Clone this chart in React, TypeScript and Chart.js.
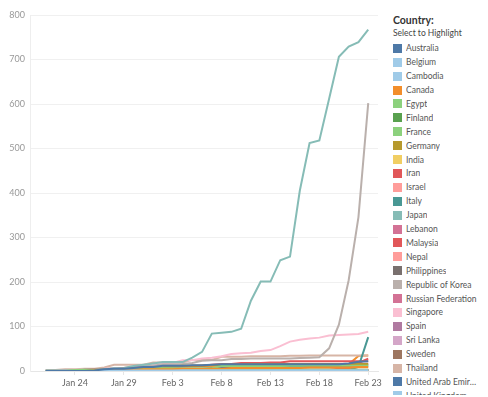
import React, { useEffect, useRef } from "react";
import { Chart, registerables } from "chart.js";

Chart.register(...registerables);

const dates = [
  "Jan 21", "Jan 22", "Jan 23", "Jan 24", "Jan 25", "Jan 26", "Jan 27", "Jan 28", "Jan 29", "Jan 30",
  "Jan 31", "Feb 1", "Feb 2", "Feb 3", "Feb 4", "Feb 5", "Feb 6", "Feb 7", "Feb 8", "Feb 9",
  "Feb 10", "Feb 11", "Feb 12", "Feb 13", "Feb 14", "Feb 15", "Feb 16", "Feb 17", "Feb 18", "Feb 19",
  "Feb 20", "Feb 21", "Feb 22", "Feb 23",
];
const xTickIndex = [3, 8, 13, 18, 23, 28, 33];
const yTickValues = [0, 100, 200, 300, 400, 500, 600, 700, 800];

const countries = [
  "Australia", "Belgium", "Cambodia", "Canada", "Egypt", "Finland", "France", "Germany", "India",
  "Iran", "Israel", "Italy", "Japan", "Lebanon", "Malaysia", "Nepal", "Philippines",
  "Republic of Korea", "Russian Federation", "Singapore", "Spain", "Sri Lanka", "Sweden",
  "Thailand", "United Arab Emirates", "United Kingdom", "United States of America", "Viet Nam",
];
const colors = [
  "#4E79A7", "#A0CBE8", "#A0CBE8", "#F28E2B", "#8CD17D", "#59A14F", "#8CD17D", "#B6992D", "#F1CE63",
  "#E15759", "#FF9D9A", "#499894", "#86BCB6", "#D37295", "#E15759", "#FF9D9A", "#79706E",
  "#BAB0AC", "#D37295", "#FABFD2", "#B07AA1", "#D4A6C8", "#9D7660",
  "#D7B5A6", "#4E79A7", "#A0CBE8", "#F28E2B", "#FFBE7D",
];

const australia = [0,0,0,0,0,1,4,5,5,7, 9,9,12,12,12,13,13,14,15,15, 15,15,15,15,15,15,15,15,15,15, 15,17,21,22];
const belgium = [0,0,0,0,0,0,0,0,0,0, 0,0,0,0,1,1,1,1,1,1, 1,1,1,1,1,1,1,1,1,1, 1,1,1,1];
const cambodia = [0,0,0,0,0,0,1,1,1,1, 1,1,1,1,1,1,1,1,1,1, 1,1,1,1,1,1,1,1,1,1, 1,1,1,1];
const canada = [0,0,0,0,0,1,1,2,3,3, 4,4,4,4,5,5,5,5,5,7, 7,7,7,7,7,7,7,8,8,8, 8,8,9,9];
const egypt = [0,0,0,0,0,0,0,0,0,0, 0,0,0,0,0,0,0,0,0,0, 0,0,0,0,1,1,1,1,1,1, 1,1,1,1];
const finland = [0,0,0,0,0,0,0,0,1,1, 1,1,1,1,1,1,1,1,1,1, 1,1,1,1,1,1,1,1,1,1, 1,1,1,1];
const france = [0,0,0,2,3,3,3,3,4,5, 6,6,6,6,6,6,6,6,11,11, 11,11,11,11,11,12,12,12,12,12, 12,12,12,12];
const germany = [0,0,0,0,0,0,0,1,4,4, 5,7,8,10,12,12,12,13,14,14, 14,16,16,16,16,16,16,16,16,16, 16,16,16,16];
const india = [0,0,0,0,0,0,0,0,0,1, 1,1,2,3,3,3,3,3,3,3, 3,3,3,3,3,3,3,3,3,3, 3,3,3,3];
const iran = [0,0,0,0,0,0,0,0,0,0, 0,0,0,0,0,0,0,0,0,0, 0,0,0,0,0,0,0,0,0,2, 5,5,18,28];
const israel = [0,0,0,0,0,0,0,0,0,0, 0,0,0,0,0,0,0,0,0,0, 0,0,0,0,0,0,0,0,0,0, 0,1,1,1];
const italy = [0,0,0,0,0,0,0,0,0,2, 2,2,2,2,2,2,3,3,3,3, 3,3,3,3,3,3,3,3,3,3, 3,3,9,76];
const japan = [1,1,1,1,3,3,4,6,7,11, 14,17,20,20,20,30,43,84,86,88, 95,158,201,201,249,257,405,512,518,612, 706,729,739,767];
const lebanon = [0,0,0,0,0,0,0,0,0,0, 0,0,0,0,0,0,0,0,0,0, 0,0,0,0,0,0,0,0,0,0, 0,1,1,1];
const malaysia = [0,0,0,0,3,4,4,4,7,8, 8,8,8,8,10,12,12,14,16,16, 18,18,18,19,19,22,22,22,22,22, 22,22,22,22];
const nepal = [0,0,0,1,1,1,1,1,1,1, 1,1,1,1,1,1,1,1,1,1, 1,1,1,1,1,1,1,1,1,1, 1,1,1,1];
const philippines = [0,0,0,0,0,0,0,0,0,1, 1,1,2,2,2,3,3,3,3,3, 3,3,3,3,3,3,3,3,3,3, 3,3,3,3];
const korea = [1,1,1,2,2,2,3,4,4,4, 11,12,15,15,16,18,23,24,24,27, 27,28,28,28,28,28,29,30,31,51, 104,204,346,602];
const russia = [0,0,0,0,0,0,0,0,0,0, 2,2,2,2,2,2,2,2,2,2, 2,2,2,2,2,2,2,2,2,2, 2,2,2,2];
const singapore = [0,0,1,3,3,4,5,7,7,10, 13,16,18,18,24,24,28,30,33,38, 40,41,45,47,56,66,70,73,75,80, 81,82,83,88];
const spain = [0,0,0,0,0,0,0,0,0,0, 0,1,1,1,1,1,1,1,1,2, 2,2,2,2,2,2,2,2,2,2, 2,2,2,2];
const sriLanka = [0,0,0,0,0,0,1,1,1,1, 1,1,1,1,1,1,1,1,1,1, 1,1,1,1,1,1,1,1,1,1, 1,1,1,1];
const sweden = [0,0,0,0,0,0,0,0,0,0, 1,1,1,1,1,1,1,1,1,1, 1,1,1,1,1,1,1,1,1,1, 1,1,1,1];
const thailand = [2,2,4,4,5,5,8,14,14,14, 14,19,19,19,19,25,25,25,32,32, 32,33,33,33,33,34,34,35,35,35, 35,35,35,35];
const uae = [0,0,0,0,0,0,0,0,4,4, 4,4,5,5,5,5,5,7,7,7, 8,8,8,8,8,9,9,9,9,9, 9,11,13,13];
const uk = [0,0,0,0,0,0,0,0,0,0, 2,2,2,2,2,2,3,3,3,4, 8,8,9,9,9,9,9,9,9,9, 9,9,9,9];
const usa = [0,1,1,1,2,2,5,5,5,5, 6,7,8,11,11,11,12,12,12,12, 12,13,13,14,15,15,15,15,15,15, 15,15,34,35];
const vietNam = [0,0,2,2,2,2,2,2,2,2, 5,6,8,8,10,10,12,12,13,14, 14,15,15,16,16,16,16,16,16,16, 16,16,16,16];

const seriesValues = [
  australia, belgium, cambodia, canada, egypt, finland, france, germany, india,
  iran, israel, italy, japan, lebanon, malaysia, nepal, philippines,
  korea, russia, singapore, spain, sriLanka, sweden,
  thailand, uae, uk, usa, vietNam,
];

const FONT = "Lato, 'Open Sans', sans-serif";

export default function App() {
  const ref = useRef<HTMLCanvasElement>(null);

  useEffect(() => {
    document.body.style.margin = "0";
    const chart = new Chart(ref.current as HTMLCanvasElement, {
      type: "line",
      data: {
        datasets: countries.map((c, i) => ({
          label: c,
          data: seriesValues[i].map((v, j) => ({ x: j, y: v })),
          borderColor: colors[i],
          backgroundColor: colors[i],
          borderWidth: 2,
          pointRadius: 0,
          tension: 0,
        })),
      },
      options: {
        animation: false,
        responsive: false,
        layout: { padding: { top: 15, right: 10, left: 0, bottom: 0 } },
        plugins: { legend: { display: false }, tooltip: { enabled: false } },
        scales: {
          x: {
            type: "linear",
            min: -1.6,
            max: 34,
            afterBuildTicks: (s: any) => {
              s.ticks = xTickIndex.map((v) => ({ value: v }));
            },
            afterFit: (s: any) => {
              s.height = 26;
            },
            ticks: {
              callback: (v: any) => dates[v as number],
              color: "#666",
              font: { family: FONT, size: 9 },
              maxRotation: 0,
              autoSkip: false,
              padding: 3,
            },
            grid: { drawOnChartArea: false, color: "#e6e6e6", tickLength: 4 },
            border: { color: "#e6e6e6" },
          },
          y: {
            min: 0,
            max: 800,
            afterBuildTicks: (s: any) => {
              s.ticks = yTickValues.map((v) => ({ value: v }));
            },
            afterFit: (s: any) => {
              s.width = 30;
            },
            ticks: {
              color: "#999",
              font: { family: FONT, size: 9 },
              padding: 5,
            },
            grid: { color: "#f0f0f0", drawTicks: false },
            border: { color: "#eeeeee" },
          },
        },
      },
    } as any);
    return () => chart.destroy();
  }, []);

  return (
    <div style={{ position: "absolute", left: 0, top: 0, width: 488, height: 397, overflow: "hidden", background: "#fff" }}>
      <canvas ref={ref} width={388} height={397} style={{ display: "block", position: "absolute", left: 0, top: 0 }} />
      <div style={{ position: "absolute", left: 392, top: 0, width: 96, height: 395, overflow: "hidden", fontFamily: FONT }}>
        <div style={{ position: "absolute", top: 13, left: 1, fontSize: 10.5, fontWeight: 700, color: "#333", lineHeight: "14px" }}>
          Country:
        </div>
        <div style={{ position: "absolute", top: 27, left: 1, fontSize: 8.5, color: "#444", lineHeight: "12px", whiteSpace: "nowrap" }}>
          Select to Highlight
        </div>
        {countries.map((c, i) => (
          <div
            key={c}
            style={{
              position: "absolute",
              top: 41.3 + i * 13.9,
              left: 1,
              height: 14,
              display: "flex",
              alignItems: "center",
            }}
          >
            <div style={{ width: 9, height: 9, background: colors[i], marginRight: 4 }} />
            <div
              style={{
                fontSize: 8.5,
                color: "#555",
                maxWidth: 72,
                overflow: "hidden",
                textOverflow: "ellipsis",
                whiteSpace: "nowrap",
                lineHeight: "14px",
              }}
            >
              {c}
            </div>
          </div>
        ))}
      </div>
    </div>
  );
}
